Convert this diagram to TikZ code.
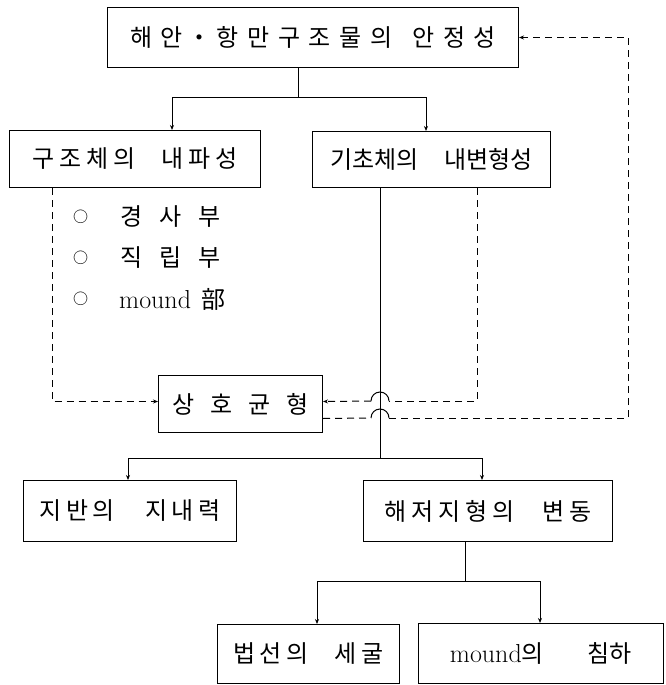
\documentclass[tikz,border=0pt]{standalone}
\usepackage{fontspec}
\newfontfamily\kr{Noto Sans CJK KR}
\newfontfamily\krs[LetterSpace=20]{Noto Sans CJK KR}
\newfontfamily\krwide[LetterSpace=36]{Noto Sans CJK KR}
\usetikzlibrary{arrows.meta,calc}
\tikzset{
  box/.style={draw, line width=1pt, inner sep=0pt, anchor=north west,
    font=\krs\fontsize{24}{28}\selectfont},
  item/.style={anchor=west, inner sep=0pt, font=\kr\fontsize{24}{28}\selectfont},
  bullet/.style={anchor=west, inner sep=0pt, font=\kr\fontsize{15}{17}\selectfont},
  con/.style={line width=1pt},
  dcon/.style={line width=1pt, dash pattern=on 7pt off 5pt},
  tip/.style={-{Stealth[length=5pt,width=4pt]}},
}
\newcommand{\lat}[1]{{\rmfamily\fontsize{26}{30}\selectfont #1}}
\begin{document}
\begin{tikzpicture}[x=1pt,y=-1pt]
\useasboundingbox (0,0) rectangle (665,685);
% boxes
\node[box, minimum width=411pt, minimum height=60pt, font=\krwide\fontsize{24}{28}\selectfont] (top) at (107,7)
  {해안\hspace{5pt}・\hspace{5pt}항만구조물의\hspace{20pt}안정성};
\node[box, minimum width=251pt, minimum height=57pt] (kz) at (9,130)
  {구조체의\hspace{26pt}내파성};
\node[box, minimum width=238pt, minimum height=56pt, font=\kr\fontsize{24}{28}\selectfont] (ki) at (312,131)
  {기초체의\hspace{26pt}내변형성};
\node[box, minimum width=164pt, minimum height=57pt, font=\kr\fontsize{24}{28}\selectfont] (sh) at (158,375)
  {상\hspace{16pt}호\hspace{16pt}균\hspace{16pt}형};
\node[box, minimum width=213pt, minimum height=61pt] (jb) at (23,480)
  {지반의\hspace{30pt}지내력};
\node[box, minimum width=249pt, minimum height=61pt] (hj) at (363,480)
  {해저지형의\hspace{28pt}변동};
\node[box, minimum width=182pt, minimum height=59pt] (bs) at (217,624)
  {법선의\hspace{26pt}세굴};
\node[box, minimum width=245pt, minimum height=60pt, font=\kr\fontsize{24}{28}\selectfont] (md) at (418,623)
  {\lat{mound}의\hspace{44pt}침하};
% list items
\node[bullet] (b1) at (73,217) {○};
\node[bullet] (b2) at (73,258) {○};
\node[bullet] (b3) at (73,299) {○};
\node[item] (i1) at (120,217) {경\hspace{17pt}사\hspace{17pt}부};
\node[item] (i2) at (120,258) {직\hspace{17pt}립\hspace{17pt}부};
\node[item] (i3) at (119,299) {\lat{mound}\hspace{10pt}部};
% solid connectors
\coordinate (j1) at (298,97);
\draw[con] (top.south -| j1) -- (j1);
\draw[con,tip] (j1) -| ($(kz.north west)+(163,0)$);
\draw[con,tip] (j1) -| ($(ki.north west)+(114,0)$);
\coordinate (j2) at (380,458);
\draw[con] (ki.south -| j2) -- (j2);
\draw[con,tip] (j2) -| ($(jb.north west)+(105,0)$);
\draw[con,tip] (j2) -| ($(hj.north west)+(119,0)$);
\coordinate (j3) at (465,581);
\draw[con] (hj.south -| j3) -- (j3);
\draw[con,tip] (j3) -| ($(bs.north west)+(100,0)$);
\draw[con,tip] (j3) -| ($(md.north west)+(122,0)$);
% dashed connectors with jumps over the solid line
\draw[dcon,tip] ($(kz.south west)+(43,0)$) |- ($(sh.west)+(0,-2.5)$);
\coordinate (k1) at (477,401);
\coordinate (a1) at (389,401);
\coordinate (a2) at (371,401);
\draw[dcon] (ki.south -| k1) -- (k1) -- (a1);
\draw[con] (a1) arc[start angle=0, end angle=180, radius=9pt];
\draw[dcon,tip] (a2) -- ($(sh.east)+(0,-2.5)$);
\coordinate (k2) at (628,418);
\coordinate (a3) at (371,418);
\coordinate (a4) at (389,418);
\draw[dcon] ($(sh.east)+(0,14.5)$) -- (a3);
\draw[con] (a3) arc[start angle=180, end angle=0, radius=9pt];
\draw[dcon,tip] (a4) -- (k2) -- (top.east -| k2) -- (top.east);
\end{tikzpicture}
\end{document}
